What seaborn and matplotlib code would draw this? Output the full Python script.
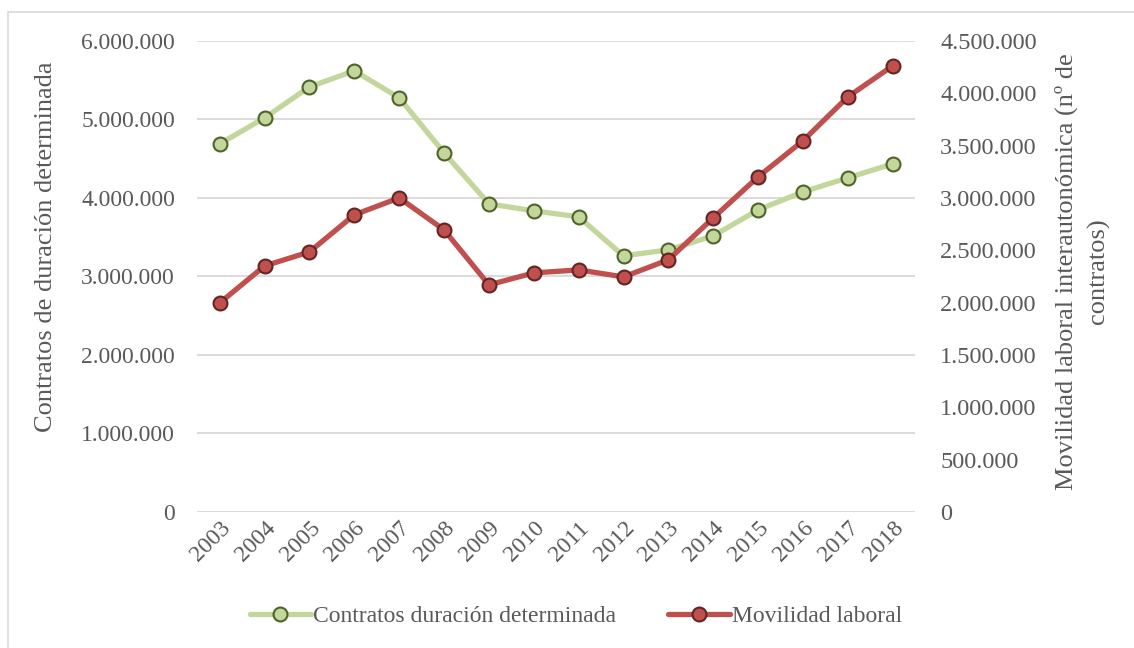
import numpy as np
import pandas as pd
import matplotlib.pyplot as plt
import matplotlib.ticker as mticker
import seaborn as sns

# datos
anios = [str(a) for a in range(2003, 2019)]
contratos = [4688000, 5019000, 5414000, 5618000, 5274000, 4573000, 3924000, 3834000,
             3758000, 3261000, 3338000, 3516000, 3847000, 4076000, 4255000, 4433000]
movilidad = [1997000, 2350000, 2484000, 2838000, 3000000, 2694000, 2169000, 2283000,
             2312000, 2245000, 2408000, 2809000, 3201000, 3545000, 3965000, 4261000]

df = pd.DataFrame({"anio": anios, "contratos": contratos, "movilidad": movilidad})

sns.set_theme(style="white")
plt.rcParams['font.family'] = ['Liberation Serif', 'DejaVu Serif']
gris = "#595959"

fig = plt.figure(figsize=(11.34, 6.48), dpi=100)
ax = fig.add_axes([0.174, 0.21, 0.633, 0.727])
ax2 = ax.twinx()

verde, verde_borde = "#C3D69B", "#4F6228"
rojo, rojo_borde = "#C0504D", "#632523"

sns.lineplot(data=df, x="anio", y="contratos", ax=ax, color=verde, lw=3.8,
             marker="o", markersize=10, markerfacecolor=verde,
             markeredgecolor=verde_borde, markeredgewidth=1.5, sort=False,
             label="Contratos duración determinada", legend=False)
sns.lineplot(data=df, x="anio", y="movilidad", ax=ax2, color=rojo, lw=3.8,
             marker="o", markersize=10, markerfacecolor=rojo,
             markeredgecolor=rojo_borde, markeredgewidth=1.5, sort=False,
             label="Movilidad laboral", legend=False)

ax.set_xlim(-0.5, len(anios) - 0.5)
ax.set_ylim(0, 6000000)
ax2.set_ylim(0, 4500000)
ax.set_yticks(np.arange(0, 6000001, 1000000))
ax2.set_yticks(np.arange(0, 4500001, 500000))

fmt = mticker.FuncFormatter(lambda v, p: f"{int(v):,}".replace(",", "."))
ax.yaxis.set_major_formatter(fmt)
ax2.yaxis.set_major_formatter(fmt)

ax.yaxis.grid(True, color="#D9D9D9", lw=1.3)
ax.set_axisbelow(True)
for a in (ax, ax2):
    for s in a.spines.values():
        s.set_visible(False)
    a.tick_params(length=0, labelsize=17, colors=gris)
ax2.tick_params(axis="y", labelsize=17.5)
ax.tick_params(axis="y", pad=16)
ax2.tick_params(axis="y", pad=18)
ax.tick_params(axis="x", pad=4)
plt.setp(ax.get_xticklabels(), rotation=45, ha="right", rotation_mode="anchor")

ax.set_xlabel("")
ax.set_ylabel("Contratos de duración determinada", fontsize=19, color=gris)
ax.yaxis.set_label_coords(-0.196, 0.563)
ax2.set_ylabel("Movilidad laboral interautonómica (nº de\ncontratos)", fontsize=19,
               color=gris, linespacing=1.5)
ax2.yaxis.set_label_coords(1.194, 0.51)

h1, l1 = ax.get_legend_handles_labels()
h2, l2 = ax2.get_legend_handles_labels()
fig.legend(h1 + h2, l1 + l2, loc="center", bbox_to_anchor=(0.508, 0.049), ncol=2,
           frameon=False, fontsize=17, labelcolor=gris, handlelength=2.6,
           handletextpad=0.1, columnspacing=2.2)

# marco exterior
fig.patches.append(plt.Rectangle((8 / 1134, -0.05), 1.1, 1 - 12 / 648 + 0.05,
                                 transform=fig.transFigure, fill=False,
                                 edgecolor="#D9D9D9", lw=1.2))

fig.savefig("out.png", dpi=100)
